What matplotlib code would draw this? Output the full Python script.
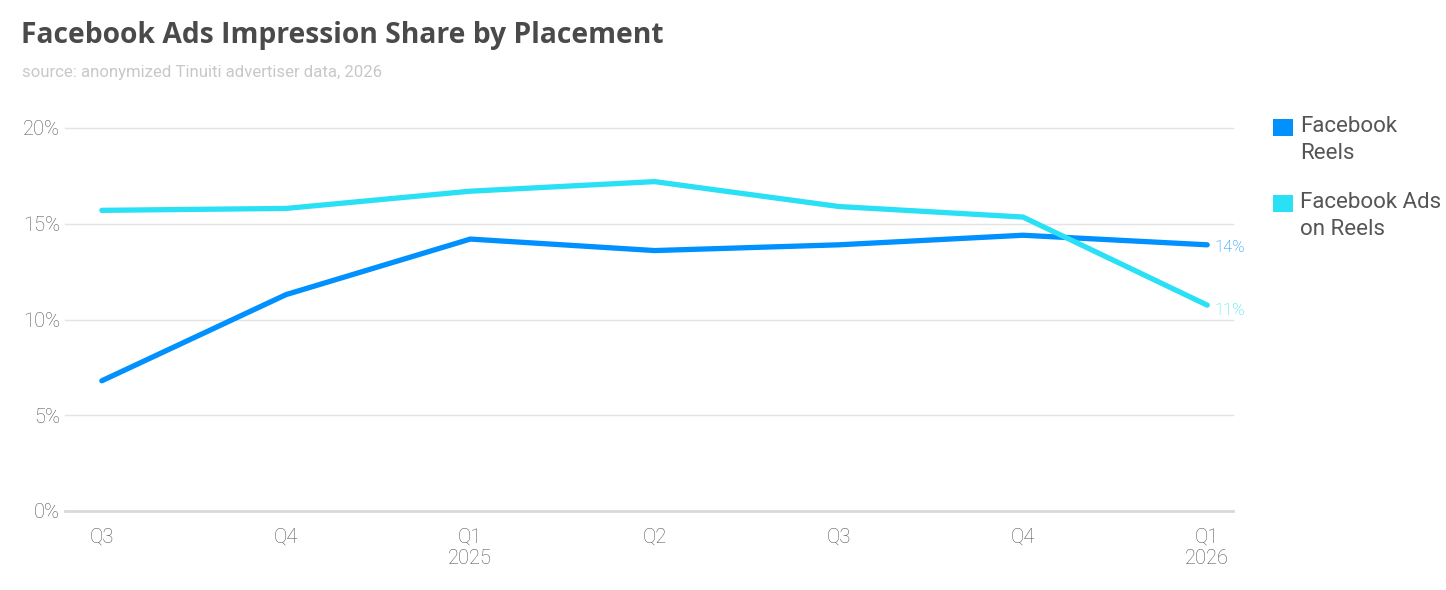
#!/usr/bin/env python3
"""Facebook Ads impression share by placement (line chart)."""
import matplotlib
matplotlib.use("Agg")
import matplotlib.pyplot as plt
from matplotlib.patches import Rectangle

# ── Data ────────────────────────────────────────────────────────────────
quarters = ["Q3", "Q4", "Q1\n2025", "Q2", "Q3", "Q4", "Q1\n2026"]
reels = [6.8, 11.3, 14.2, 13.6, 13.9, 14.4, 13.9]
ads_on_reels = [15.7, 15.8, 16.7, 17.2, 15.9, 15.35, 10.75]
series_names = ["Facebook\nReels", "Facebook Ads\non Reels"]
end_labels = ["14%", "11%"]
y_ticks = [0, 5, 10, 15, 20]

# ── Styles ──────────────────────────────────────────────────────────────
blue = "#0091ff"
cyan = "#2ae0f5"
tick_color = "#555555"
grid_color = "#e3e3e3"

plt.rcParams["font.family"] = ["Roboto", "DejaVu Sans"]

fig = plt.figure(figsize=(14.46, 5.9), dpi=100)
ax = fig.add_axes([65 / 1446, 1 - 511 / 590, (1233 - 65) / 1446, (511 - 128) / 590])

x = list(range(len(quarters)))
for vals, col in [(reels, blue), (ads_on_reels, cyan)]:
    ax.plot(x, vals, color=col, lw=3.8, solid_capstyle="round",
            solid_joinstyle="round", zorder=3)

ax.set_xlim(-0.2, 6.14)
ax.set_ylim(0, 20)
ax.set_yticks(y_ticks)
ax.set_yticklabels([f"{v}%" for v in y_ticks])
ax.set_xticks(x)
ax.set_xticklabels(quarters)

for v in y_ticks:
    ax.axhline(v, color="#d9d9d9" if v == 0 else grid_color,
               lw=2.0 if v == 0 else 1.0, zorder=1, clip_on=False)

for s in ax.spines.values():
    s.set_visible(False)
ax.tick_params(length=0, labelsize=14.5, colors=tick_color)
ax.tick_params(axis="y", pad=3.5)
ax.tick_params(axis="x", pad=12)
for lab in ax.get_xticklabels() + ax.get_yticklabels():
    lab.set_fontweight("light")
    lab.set_linespacing(1.15)

# end-of-line value labels
for vals, col, txt, dy in [(reels, blue, end_labels[0], -2),
                           (ads_on_reels, cyan, end_labels[1], -4)]:
    ax.annotate(txt, (x[-1], vals[-1]), xytext=(5, dy), textcoords="offset points",
                ha="left", va="center", fontsize=12, color=col, fontweight="light")

# ── Title & subtitle ────────────────────────────────────────────────────
fig.text(21 / 1446, 1 - 35 / 590, "Facebook Ads Impression Share by Placement",
         ha="left", va="center", fontsize=20.3, fontweight="bold",
         color="#4a4a4a", family=["Open Sans", "DejaVu Sans"])
fig.text(22 / 1446, 1 - 72 / 590, "source: anonymized Tinuiti advertiser data, 2026",
         ha="left", va="center", fontsize=12.1, color="#c8c8c8")

# ── Legend ──────────────────────────────────────────────────────────────
for i, (name, col) in enumerate(zip(series_names, [blue, cyan])):
    ytop = 119 + i * 76
    fig.patches.append(Rectangle((1273 / 1446, 1 - (ytop + 17) / 590), 20 / 1446, 17 / 590,
                                 transform=fig.transFigure, facecolor=col,
                                 edgecolor="none"))
    fig.text(1300 / 1446, 1 - (ytop - 3) / 590, name, ha="left", va="top",
             fontsize=16, color="#555555", linespacing=1.4)

fig.savefig("out.png", dpi=100)
